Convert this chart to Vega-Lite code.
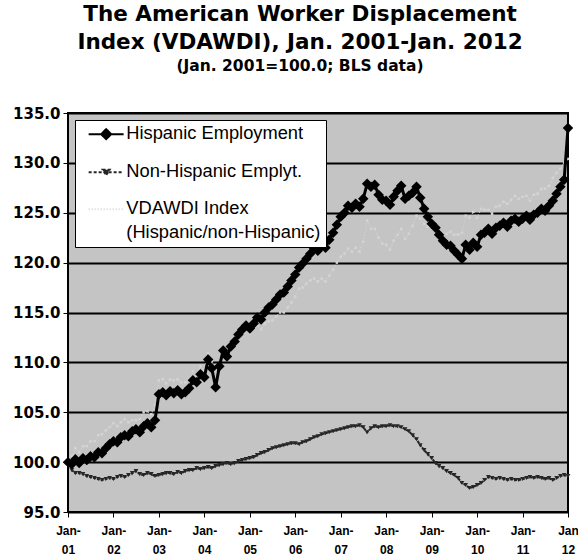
{
  "$schema": "https://vega.github.io/schema/vega-lite/v6.json",
  "width": 500,
  "height": 399,
  "autosize": {"type": "none"},
  "padding": {"left": 68, "top": 113, "right": 10, "bottom": 47},
  "background": "white",
  "title": {
    "text": ["The American Worker Displacement", "Index (VDAWDI), Jan. 2001-Jan. 2012"],
    "subtitle": "(Jan. 2001=100.0; BLS data)",
    "font": "DejaVu Sans",
    "fontSize": 21.5,
    "fontWeight": "bold",
    "lineHeight": 28,
    "color": "black",
    "subtitleFont": "DejaVu Sans",
    "subtitleFontSize": 15.5,
    "subtitleFontWeight": "bold",
    "subtitleColor": "black",
    "subtitlePadding": 5,
    "anchor": "middle",
    "dx": -18,
    "offset": 32
  },
  "data": {"values": [
    {"date":"2001-01-01","h":100.0,"n":100.0,"r":100.0},
    {"date":"2001-02-01","h":99.8,"n":99.2,"r":100.6},
    {"date":"2001-03-01","h":100.3,"n":98.9,"r":101.4},
    {"date":"2001-04-01","h":99.9,"n":98.9,"r":101.0},
    {"date":"2001-05-01","h":100.4,"n":98.8,"r":101.6},
    {"date":"2001-06-01","h":100.2,"n":98.6,"r":101.6},
    {"date":"2001-07-01","h":100.6,"n":98.5,"r":102.1},
    {"date":"2001-08-01","h":100.5,"n":98.4,"r":102.1},
    {"date":"2001-09-01","h":101.0,"n":98.3,"r":102.7},
    {"date":"2001-10-01","h":100.9,"n":98.2,"r":102.8},
    {"date":"2001-11-01","h":101.4,"n":98.3,"r":103.2},
    {"date":"2001-12-01","h":101.8,"n":98.4,"r":103.5},
    {"date":"2002-01-01","h":102.1,"n":98.3,"r":103.9},
    {"date":"2002-02-01","h":102.0,"n":98.5,"r":103.6},
    {"date":"2002-03-01","h":102.5,"n":98.6,"r":104.0},
    {"date":"2002-04-01","h":102.7,"n":98.5,"r":104.3},
    {"date":"2002-05-01","h":102.6,"n":98.7,"r":104.0},
    {"date":"2002-06-01","h":103.1,"n":98.9,"r":104.2},
    {"date":"2002-07-01","h":103.3,"n":99.1,"r":104.2},
    {"date":"2002-08-01","h":103.0,"n":98.8,"r":104.3},
    {"date":"2002-09-01","h":103.6,"n":98.7,"r":105.0},
    {"date":"2002-10-01","h":103.9,"n":98.9,"r":105.1},
    {"date":"2002-11-01","h":103.5,"n":98.8,"r":104.8},
    {"date":"2002-12-01","h":104.2,"n":98.6,"r":105.7},
    {"date":"2003-01-01","h":106.8,"n":98.7,"r":108.2},
    {"date":"2003-02-01","h":107.0,"n":98.8,"r":108.3},
    {"date":"2003-03-01","h":106.7,"n":98.9,"r":107.9},
    {"date":"2003-04-01","h":107.1,"n":98.9,"r":108.3},
    {"date":"2003-05-01","h":106.9,"n":98.8,"r":108.2},
    {"date":"2003-06-01","h":107.2,"n":99.0,"r":108.3},
    {"date":"2003-07-01","h":106.8,"n":98.9,"r":108.0},
    {"date":"2003-08-01","h":107.0,"n":99.1,"r":108.0},
    {"date":"2003-09-01","h":107.4,"n":99.2,"r":108.3},
    {"date":"2003-10-01","h":108.2,"n":99.2,"r":109.1},
    {"date":"2003-11-01","h":108.0,"n":99.4,"r":108.7},
    {"date":"2003-12-01","h":108.8,"n":99.3,"r":109.6},
    {"date":"2004-01-01","h":108.5,"n":99.4,"r":109.2},
    {"date":"2004-02-01","h":110.3,"n":99.5,"r":110.9},
    {"date":"2004-03-01","h":109.4,"n":99.4,"r":110.1},
    {"date":"2004-04-01","h":107.5,"n":99.6,"r":107.9},
    {"date":"2004-05-01","h":109.6,"n":99.7,"r":109.9},
    {"date":"2004-06-01","h":111.2,"n":99.8,"r":111.4},
    {"date":"2004-07-01","h":110.6,"n":99.9,"r":110.7},
    {"date":"2004-08-01","h":111.6,"n":99.8,"r":111.8},
    {"date":"2004-09-01","h":112.1,"n":99.9,"r":112.2},
    {"date":"2004-10-01","h":112.8,"n":100.1,"r":112.7},
    {"date":"2004-11-01","h":113.3,"n":100.2,"r":113.1},
    {"date":"2004-12-01","h":113.7,"n":100.3,"r":113.4},
    {"date":"2005-01-01","h":113.4,"n":100.4,"r":112.9},
    {"date":"2005-02-01","h":113.9,"n":100.5,"r":113.3},
    {"date":"2005-03-01","h":114.5,"n":100.7,"r":113.7},
    {"date":"2005-04-01","h":114.3,"n":100.9,"r":113.3},
    {"date":"2005-05-01","h":115.0,"n":101.0,"r":113.9},
    {"date":"2005-06-01","h":115.5,"n":101.2,"r":114.1},
    {"date":"2005-07-01","h":115.8,"n":101.4,"r":114.2},
    {"date":"2005-08-01","h":116.3,"n":101.5,"r":114.6},
    {"date":"2005-09-01","h":116.8,"n":101.6,"r":115.0},
    {"date":"2005-10-01","h":117.0,"n":101.7,"r":115.0},
    {"date":"2005-11-01","h":117.6,"n":101.8,"r":115.5},
    {"date":"2005-12-01","h":118.2,"n":101.9,"r":116.0},
    {"date":"2006-01-01","h":118.8,"n":101.9,"r":116.6},
    {"date":"2006-02-01","h":119.5,"n":101.8,"r":117.4},
    {"date":"2006-03-01","h":119.9,"n":102.0,"r":117.5},
    {"date":"2006-04-01","h":120.4,"n":102.1,"r":117.9},
    {"date":"2006-05-01","h":120.9,"n":102.3,"r":118.2},
    {"date":"2006-06-01","h":121.4,"n":102.5,"r":118.4},
    {"date":"2006-07-01","h":121.2,"n":102.6,"r":118.1},
    {"date":"2006-08-01","h":121.7,"n":102.8,"r":118.4},
    {"date":"2006-09-01","h":121.5,"n":102.9,"r":118.1},
    {"date":"2006-10-01","h":122.3,"n":103.0,"r":118.7},
    {"date":"2006-11-01","h":123.0,"n":103.1,"r":119.3},
    {"date":"2006-12-01","h":123.8,"n":103.2,"r":120.0},
    {"date":"2007-01-01","h":124.6,"n":103.3,"r":120.6},
    {"date":"2007-02-01","h":125.0,"n":103.4,"r":120.9},
    {"date":"2007-03-01","h":125.7,"n":103.5,"r":121.4},
    {"date":"2007-04-01","h":125.5,"n":103.6,"r":121.1},
    {"date":"2007-05-01","h":125.9,"n":103.6,"r":121.5},
    {"date":"2007-06-01","h":125.6,"n":103.7,"r":121.1},
    {"date":"2007-07-01","h":126.4,"n":103.5,"r":122.1},
    {"date":"2007-08-01","h":127.9,"n":103.0,"r":124.2},
    {"date":"2007-09-01","h":127.6,"n":103.4,"r":123.4},
    {"date":"2007-10-01","h":127.8,"n":103.6,"r":123.4},
    {"date":"2007-11-01","h":126.8,"n":103.5,"r":122.5},
    {"date":"2007-12-01","h":126.3,"n":103.6,"r":121.9},
    {"date":"2008-01-01","h":126.2,"n":103.6,"r":121.8},
    {"date":"2008-02-01","h":125.8,"n":103.7,"r":121.3},
    {"date":"2008-03-01","h":126.6,"n":103.6,"r":122.2},
    {"date":"2008-04-01","h":127.2,"n":103.6,"r":122.8},
    {"date":"2008-05-01","h":127.7,"n":103.5,"r":123.4},
    {"date":"2008-06-01","h":126.4,"n":103.3,"r":122.4},
    {"date":"2008-07-01","h":126.7,"n":103.1,"r":122.9},
    {"date":"2008-08-01","h":127.0,"n":102.7,"r":123.7},
    {"date":"2008-09-01","h":127.6,"n":102.3,"r":124.7},
    {"date":"2008-10-01","h":126.5,"n":101.7,"r":124.4},
    {"date":"2008-11-01","h":125.4,"n":101.2,"r":123.9},
    {"date":"2008-12-01","h":124.6,"n":100.8,"r":123.6},
    {"date":"2009-01-01","h":123.9,"n":100.4,"r":123.4},
    {"date":"2009-02-01","h":123.5,"n":99.9,"r":123.6},
    {"date":"2009-03-01","h":122.8,"n":99.6,"r":123.3},
    {"date":"2009-04-01","h":122.2,"n":99.4,"r":122.9},
    {"date":"2009-05-01","h":121.8,"n":99.1,"r":122.9},
    {"date":"2009-06-01","h":121.7,"n":98.9,"r":123.1},
    {"date":"2009-07-01","h":121.2,"n":98.7,"r":122.8},
    {"date":"2009-08-01","h":120.8,"n":98.4,"r":122.8},
    {"date":"2009-09-01","h":120.4,"n":97.9,"r":123.0},
    {"date":"2009-10-01","h":121.8,"n":97.7,"r":124.7},
    {"date":"2009-11-01","h":121.3,"n":97.4,"r":124.5},
    {"date":"2009-12-01","h":122.0,"n":97.5,"r":125.1},
    {"date":"2010-01-01","h":121.6,"n":97.7,"r":124.5},
    {"date":"2010-02-01","h":122.8,"n":97.9,"r":125.4},
    {"date":"2010-03-01","h":123.0,"n":98.2,"r":125.3},
    {"date":"2010-04-01","h":123.4,"n":98.5,"r":125.3},
    {"date":"2010-05-01","h":122.9,"n":98.4,"r":124.9},
    {"date":"2010-06-01","h":123.5,"n":98.3,"r":125.6},
    {"date":"2010-07-01","h":123.7,"n":98.4,"r":125.7},
    {"date":"2010-08-01","h":124.0,"n":98.3,"r":126.1},
    {"date":"2010-09-01","h":123.6,"n":98.2,"r":125.9},
    {"date":"2010-10-01","h":124.2,"n":98.3,"r":126.3},
    {"date":"2010-11-01","h":124.4,"n":98.2,"r":126.7},
    {"date":"2010-12-01","h":124.1,"n":98.2,"r":126.4},
    {"date":"2011-01-01","h":124.4,"n":98.3,"r":126.6},
    {"date":"2011-02-01","h":124.7,"n":98.4,"r":126.7},
    {"date":"2011-03-01","h":124.3,"n":98.5,"r":126.2},
    {"date":"2011-04-01","h":124.8,"n":98.4,"r":126.8},
    {"date":"2011-05-01","h":125.0,"n":98.5,"r":126.9},
    {"date":"2011-06-01","h":125.4,"n":98.4,"r":127.4},
    {"date":"2011-07-01","h":125.2,"n":98.3,"r":127.4},
    {"date":"2011-08-01","h":125.7,"n":98.4,"r":127.7},
    {"date":"2011-09-01","h":126.2,"n":98.2,"r":128.5},
    {"date":"2011-10-01","h":126.9,"n":98.4,"r":129.0},
    {"date":"2011-11-01","h":127.6,"n":98.6,"r":129.4},
    {"date":"2011-12-01","h":128.3,"n":98.7,"r":130.0},
    {"date":"2012-01-01","h":133.5,"n":98.6,"r":130.4}
  ]},
  "transform": [{"fold": ["h", "n", "r"], "as": ["series", "value"]}],
  "encoding": {
    "x": {
      "field": "date", "type": "temporal",
      "scale": {"type": "utc", "domain": [{"year": 2001, "month": 1, "date": 1, "utc": true}, {"year": 2012, "month": 1, "date": 1, "utc": true}]},
      "axis": {
        "title": null, "grid": false,
        "tickCount": {"interval": "year", "step": 1},
        "labelExpr": "utcFormat(datum.value, '%y') === '12' ? ['Jan', '12'] : ['Jan-', utcFormat(datum.value, '%y')]",
        "labelFont": "Liberation Sans", "labelFontSize": 12, "labelFontWeight": "bold",
        "labelLineHeight": 19, "labelColor": "black", "labelBaseline": "top",
        "labelPadding": 8, "labelOverlap": false, "labelFlush": false,
        "tickSize": 5, "tickColor": "black", "domainColor": "black"
      }
    },
    "y": {
      "field": "value", "type": "quantitative",
      "scale": {"domain": [95, 135], "nice": false, "zero": false},
      "axis": {
        "title": null, "values": [95, 100, 105, 110, 115, 120, 125, 130, 135], "format": ".1f",
        "labelFont": "DejaVu Sans", "labelFontSize": 15, "labelFontWeight": "bold", "labelColor": "black",
        "labelPadding": 3, "tickSize": 5, "tickColor": "black", "domainColor": "black",
        "grid": true, "gridColor": "black", "gridWidth": 2
      }
    },
    "color": {
      "field": "series", "type": "nominal",
      "scale": {"domain": ["h", "n", "r"], "range": ["#000000", "#262626", "#d4d4d4"]},
      "legend": {
        "title": null, "orient": "top-left", "offset": 7,
        "fillColor": "white", "strokeColor": "black",
        "padding": 5, "rowPadding": 18,
        "labelFont": "Liberation Sans", "labelFontSize": 18.3, "labelColor": "black", "labelLimit": 300,
        "labelOffset": 11, "symbolOffset": 17, "symbolSize": 100, "symbolStrokeWidth": 2,
        "labelExpr": "datum.value === 'h' ? 'Hispanic Employment' : datum.value === 'n' ? 'Non-Hispanic Emplyt.' : ['VDAWDI Index', '(Hispanic/non-Hispanic)']",
        "encode": {
          "symbols": {"update": {
            "shape": {"signal": "datum.value === 'h' ? 'M-3.5,0H3.5M0,-1L1,0L0,1L-1,0Z' : datum.value === 'n' ? 'M-3.5,0H3.5M-0.7,-0.5L0.7,-0.5L0,0.6Z' : 'M-3.5,0H3.5'"},
            "fill": {"signal": "datum.value === 'h' ? 'black' : datum.value === 'n' ? '#444444' : 'transparent'"},
            "stroke": {"signal": "datum.value === 'h' ? 'black' : datum.value === 'n' ? '#444444' : '#999999'"},
            "strokeDash": {"signal": "datum.value === 'n' ? [3, 2] : datum.value === 'r' ? [1, 2] : [1, 0]"},
            "strokeWidth": {"value": 2},
            "opacity": {"value": 1}
          }},
          "labels": {"update": {"lineHeight": {"value": 24}}}
        }
      }
    }
  },
  "layer": [
    {"transform": [{"filter": "datum.series === 'r'"}], "mark": {"type": "line", "strokeWidth": 1.2, "strokeDash": [1, 2]}},
    {"transform": [{"filter": "datum.series === 'r'"}], "mark": {"type": "point", "filled": true, "size": 6, "shape": "square", "opacity": 1}},
    {"transform": [{"filter": "datum.series === 'n'"}], "mark": {"type": "line", "strokeWidth": 2, "strokeDash": [3, 1]}},
    {"transform": [{"filter": "datum.series === 'n'"}], "mark": {"type": "point", "filled": true, "size": 22, "shape": "triangle-down", "opacity": 1}},
    {"transform": [{"filter": "datum.series === 'h'"}], "mark": {"type": "line", "strokeWidth": 3}},
    {"transform": [{"filter": "datum.series === 'h'"}], "mark": {"type": "point", "filled": true, "size": 110, "shape": "diamond", "opacity": 1}}
  ],
  "config": {
    "view": {"fill": "#c4c4c4", "stroke": "black", "strokeWidth": 2},
    "font": "Liberation Sans"
  }
}
